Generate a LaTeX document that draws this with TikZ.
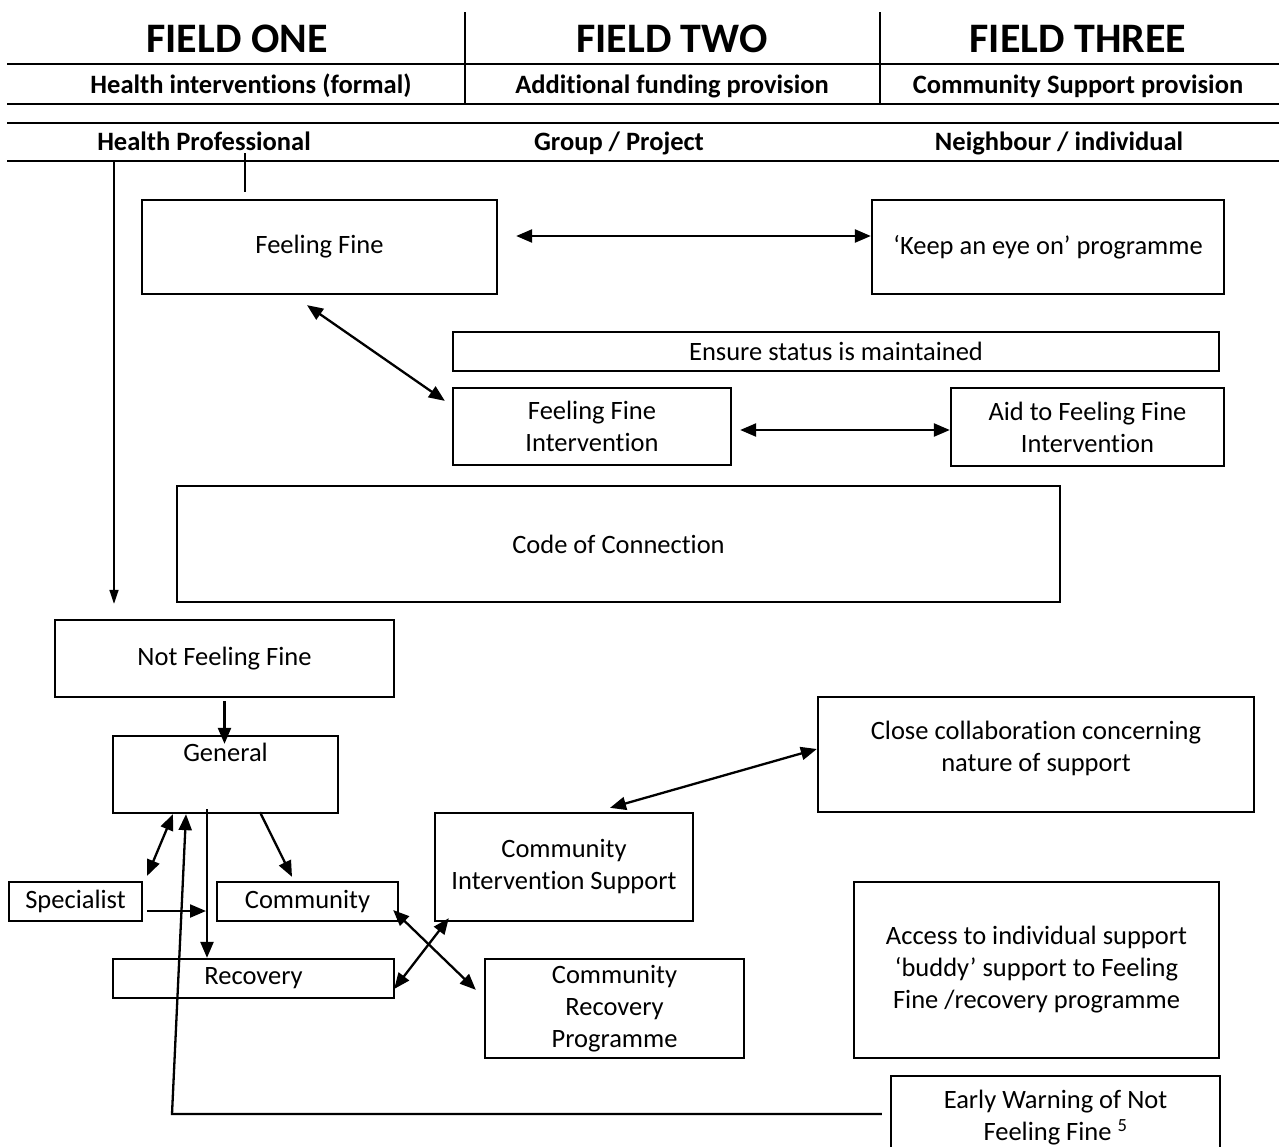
\documentclass[tikz,border=0pt]{standalone}
\usepackage{fontspec}
\setmainfont{Carlito}[Ligatures={NoCommon}]
\usetikzlibrary{arrows.meta,calc}
\newcommand\bodyfnt{\fontsize{26.5}{32}\selectfont}
\newcommand\subfnt{\fontsize{26.5}{30}\selectfont\bfseries}
\newcommand\headfnt{\fontsize{42}{46}\selectfont\bfseries}
\begin{document}
\begin{tikzpicture}[x=1pt,y=-1pt,
  box/.style={draw, line width=2.3pt, inner sep=0pt, align=center, font=\bodyfnt},
  rule/.style={line width=2pt},
  sep/.style={line width=1.5pt},
  arr/.style={line width=2.3pt, -{Triangle[length=16pt,width=13pt]}},
  dbl/.style={line width=2.3pt, {Triangle[length=16pt,width=13pt]}-{Triangle[length=16pt,width=13pt]}},
  thinarr/.style={line width=1.6pt, -{Triangle[length=14pt,width=9pt]}},
  head/.style={font=\headfnt, inner sep=0pt},
  sub/.style={font=\subfnt, inner sep=0pt}]
\clip (0,0) rectangle (1279,1146);
\fill[white] (0,0) rectangle (1279,1146);

% header rules
\draw[rule] (7,64) -- (1279,64);
\draw[rule] (7,104) -- (1279,104);
\draw[rule] (7,123) -- (1279,123);
\draw[rule] (7,161) -- (1279,161);
\draw[sep] (465,12) -- (465,104);
\draw[sep] (880,12) -- (880,104);

\node[head] (f1) at (237,39) {FIELD ONE};
\node[head] (f2) at (672,39) {FIELD TWO};
\node[head] (f3) at (1078,39) {FIELD THREE};
\node[sub] (s1) at (251,86) {Health interventions (formal)};
\node[sub] (s2) at (672,86) {Additional funding provision};
\node[sub] (s3) at (1078,86) {Community Support provision};
\node[sub] (r1) at (204,141) {Health Professional};
\node[sub] (r2) at (619,143) {Group / Project};
\node[sub] (r3) at (1059,143) {Neighbour / individual};

% boxes
\node[box, minimum width=355pt, minimum height=94pt] (ff) at (319.5,247) {Feeling Fine};
\node[box, minimum width=352pt, minimum height=94pt] (keep) at (1048,247) {‘Keep an eye on’ programme};
\node[box, minimum width=766pt, minimum height=39pt] (ensure) at (836,351.5) {Ensure status is maintained};
\node[box, minimum width=278pt, minimum height=77pt] (ffi) at (592,426.5) {Feeling Fine\\Intervention};
\node[box, minimum width=273pt, minimum height=78pt] (aid) at (1087.5,427) {Aid to Feeling Fine\\Intervention};
\node[box, minimum width=883pt, minimum height=116pt] (code) at (618.5,544) {Code of Connection};
\node[box, minimum width=339pt, minimum height=77pt] (nff) at (224.5,658.5) {Not Feeling Fine};
\node[box, minimum width=225pt, minimum height=77pt,
  label={[font=\bodyfnt, inner sep=0pt, anchor=north, yshift=-8pt]north:General}] (gen) at (225.5,774.5) {};
\node[box, minimum width=133pt, minimum height=39pt] (spec) at (75.5,901.5) {Specialist};
\node[box, minimum width=181pt, minimum height=39pt] (comm) at (307.5,901.5) {Community};
\node[box, minimum width=281pt, minimum height=39pt] (rec) at (253.5,978.5) {Recovery};
\node[box, minimum width=258pt, minimum height=108pt] (cis) at (564,867) {Community\\Intervention Support};
\node[box, minimum width=259pt, minimum height=99pt] (crp) at (614.5,1008.5) {Community\\Recovery\\Programme};
\node[box, minimum width=436pt, minimum height=115pt,
  label={[font=\bodyfnt, align=center, inner sep=0pt, yshift=6pt]center:Close collaboration concerning\\nature of support}] (close) at (1036,754.5) {};
\node[box, minimum width=365pt, minimum height=176pt] (access) at (1036.5,970) {Access to individual support\\‘buddy’ support to Feeling\\Fine /recovery programme};
\node[box, minimum width=329pt, minimum height=84pt] (early) at (1055.5,1118) {Early Warning of Not\\Feeling Fine \textsuperscript{5}};

% helper coordinates
\coordinate (hpline) at (114,161);
\coordinate (tick) at (245,153);
\coordinate (ewc) at (172,1114);
\coordinate (junc) at (206,911);

% connectors
\draw[dbl] ([xshift=18pt,yshift=11pt]ff.east) -- ([yshift=11pt]keep.west);
\draw[dbl] ([xshift=-12.5pt,yshift=-10pt]ff.south) -- ([xshift=-7pt,yshift=-14pt]ffi.north west);
\draw[dbl] ([xshift=8pt,yshift=-3.5pt]ffi.east) -- ([yshift=-3pt]aid.west);
\draw[thinarr] (hpline) -- ([xshift=-110.5pt,yshift=15pt]nff.north);
\draw[line width=1.3pt] (tick) -- ([xshift=-74.5pt,yshift=7pt]ff.north);
\draw[arr] ([yshift=-3pt]nff.south) -- ([yshift=-9pt]nff.south |- gen.north);
\draw[dbl] ([xshift=-52.5pt]gen.south) -- ([xshift=4pt,yshift=5pt]spec.north east);
\draw[arr] ([xshift=-8pt,yshift=4pt]early.west) -- (ewc) -- ([xshift=-39.5pt]gen.south);
\draw[arr] ([xshift=-18.5pt,yshift=5pt]gen.south) -- ([xshift=-46.5pt]rec.north);
\draw[arr] ([xshift=4pt,yshift=-9.5pt]spec.east) -- (junc);
\draw[arr] ([xshift=34.5pt,yshift=2pt]gen.south) -- ([xshift=-15.5pt,yshift=4pt]comm.north);
\draw[dbl] ([xshift=-6pt,yshift=-8.5pt]comm.east) -- ([xshift=-8pt,yshift=-32pt]crp.north west);
\draw[dbl] ([xshift=15pt,yshift=4pt]cis.south west) -- ([xshift=-1pt,yshift=-10.5pt]rec.east);
\draw[dbl] ([xshift=46pt,yshift=4pt]cis.north) -- ([yshift=5.5pt]close.west);
\end{tikzpicture}
\end{document}
